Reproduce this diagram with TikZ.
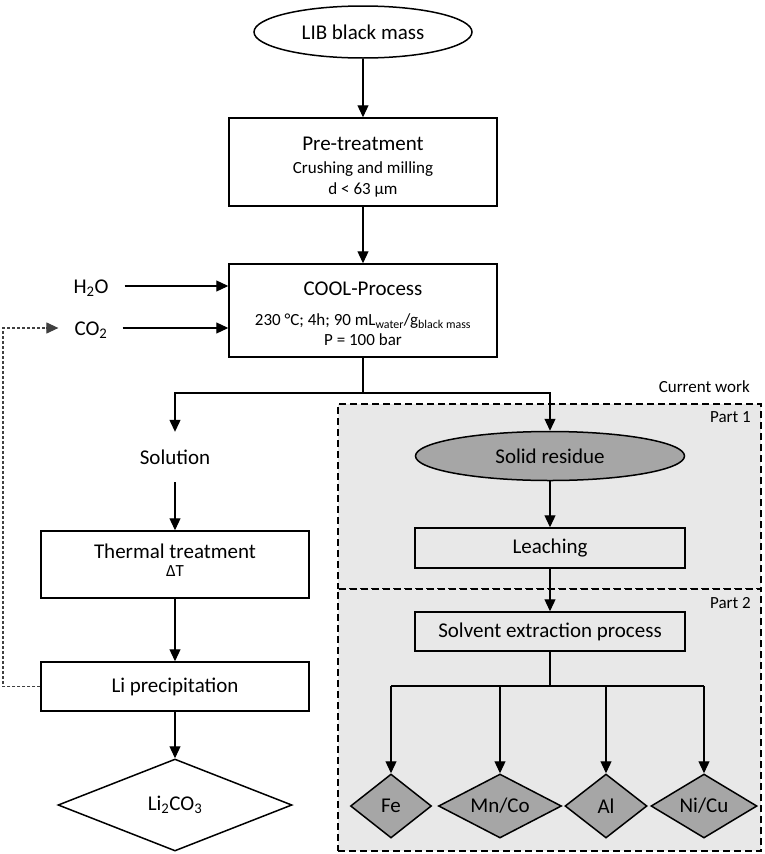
\documentclass[tikz,border=0pt]{standalone}
\usepackage{fontspec}
\setmainfont{Carlito}
\usetikzlibrary{shapes.geometric,arrows.meta}
\newcommand\fsbig{\fontsize{21}{25}\selectfont}
\newcommand\fstight{\fontsize{21}{21}\selectfont}
\newcommand\fssmall{\fontsize{17}{20}\selectfont}
\definecolor{partbg}{RGB}{232,232,232}
\definecolor{darkfill}{RGB}{166,166,166}
\begin{document}
\begin{tikzpicture}[x=1pt,y=-1pt,
  box/.style={draw, line width=1.5pt, fill=white, inner sep=0pt, align=center, font=\fsbig},
  graybox/.style={box, fill=partbg},
  oval/.style={draw, ellipse, line width=1.5pt, inner sep=0pt, font=\fsbig},
  dia/.style={draw, diamond, line width=1.5pt, inner sep=0pt, font=\fsbig},
  plain/.style={inner sep=0pt, font=\fsbig},
  small/.style={inner sep=0pt, font=\fssmall},
  tip/.style={-{Triangle[length=12pt,width=11pt]}},
  conn/.style={line width=1.2pt},
  arr/.style={conn, tip},
  fbline/.style={line width=1.1pt, black!75, dash pattern=on 3pt off 2pt},
  partframe/.style={draw, line width=2pt, dash pattern=on 7pt off 4pt, fill=partbg, inner sep=0pt}
]
\useasboundingbox (0,0) rectangle (764,854);
\fill[white] (0,0) rectangle (764,854);

% part frames
\node[partframe, minimum width=423pt, minimum height=185pt] (part1) at (549.5,496.5) {};
\node[partframe, minimum width=423pt, minimum height=262pt] (part2) at (549.5,720) {};
\node[small, anchor=east] (p1lab) at (751,417) {Part 1};
\node[small, anchor=east] (p2lab) at (751,603) {Part 2};
\node[small, anchor=east] (cwlab) at (750,387) {Current work};

% main column
\node[oval, minimum width=218pt, minimum height=52pt] (lib) at (363,32) {LIB black mass};
\node[box, font=\fstight, minimum width=268pt, minimum height=88pt] (pre) at (363,162)
  {\rule{0pt}{23pt}Pre-treatment\\[2pt]{\fssmall Crushing and milling}\\{\fssmall d < 63 µm}};
\node[box, font=\fstight, minimum width=268pt, minimum height=93pt] (cool) at (363,310.5)
  {\rule{0pt}{21pt}COOL-Process\\[9pt]{\fssmall 230 °C; 4h; 90 mL\textsubscript{water}/g\textsubscript{black mass}}\\[-1pt]{\fssmall P = 100 bar}};
\node[plain] (h2o) at (91,288) {H\textsubscript{2}O};
\node[plain] (co2) at (91,330) {CO\textsubscript{2}};

\coordinate (sp) at (363,393);
\node[plain, minimum height=50pt] (sol) at (175,457) {Solution};
\node[box, font=\fstight, minimum width=268pt, minimum height=67pt] (thermal) at (175,564.5)
  {Thermal treatment\\[-3pt]{\fssmall ΔT\rule[-9pt]{0pt}{0pt}}};
\node[box, minimum width=268pt, minimum height=49pt] (liprec) at (175,686.5) {Li precipitation};
\node[dia, minimum width=234pt, minimum height=92pt, aspect=2.5] (li2co3) at (175,805) {Li\textsubscript{2}CO\textsubscript{3}};
\coordinate (fbk) at (3,686.5);

% right column
\node[oval, fill=darkfill, minimum width=269pt, minimum height=49pt] (res) at (550,456) {Solid residue};
\node[graybox, minimum width=270pt, minimum height=40pt] (leach) at (550,548) {Leaching};
\node[graybox, minimum width=270pt, minimum height=39pt] (solv) at (550,631.5) {Solvent extraction process};
\coordinate (sp2) at (550,686);
\node[dia, fill=darkfill, minimum width=81pt, minimum height=64pt, aspect=1.27] (fe) at (391,806) {Fe};
\node[dia, fill=darkfill, minimum width=123pt, minimum height=64pt, aspect=1.9] (mnco) at (500,806) {Mn/Co};
\node[dia, fill=darkfill, minimum width=82pt, minimum height=64pt, aspect=1.28] (al) at (606,806) {Al};
\node[dia, fill=darkfill, minimum width=106pt, minimum height=64pt, aspect=1.66] (nicu) at (704,806) {Ni/Cu};

% connectors
\draw[arr] (lib.south) -- (pre.north);
\draw[arr] (pre.south) -- (cool.north);
\draw[arr] ([xshift=16pt]h2o.east |- 0,286) -- (cool.west |- 0,286);
\draw[arr] ([xshift=15pt]co2.east |- 0,328) -- (cool.west |- 0,328);
\draw[conn] (cool.south) -- (sp);
\draw[arr] (sp) -| (sol.north);
\draw[arr] (sp) -| (res.north);
\draw[arr] (sol.south) -- (thermal.north);
\draw[arr] (thermal.south) -- (liprec.north);
\draw[arr] (liprec.south) -- (li2co3.north);
\draw[fbline] (liprec.west) -- (fbk) |- ([xshift=-28pt]co2.west |- 0,328);
\draw[conn, tip, black!75] ([xshift=-28pt]co2.west |- 0,328) -- ([xshift=-16pt]co2.west |- 0,328);
\draw[arr] (res.south) -- (leach.north);
\draw[arr] (leach.south) -- (solv.north);
\draw[conn] (solv.south) -- (sp2);
\draw[conn] (fe.north |- sp2) -- (nicu.north |- sp2);
\draw[arr] (fe.north |- sp2) -- (fe.north);
\draw[arr] (mnco.north |- sp2) -- (mnco.north);
\draw[arr] (al.north |- sp2) -- (al.north);
\draw[arr] (nicu.north |- sp2) -- (nicu.north);
\end{tikzpicture}
\end{document}
